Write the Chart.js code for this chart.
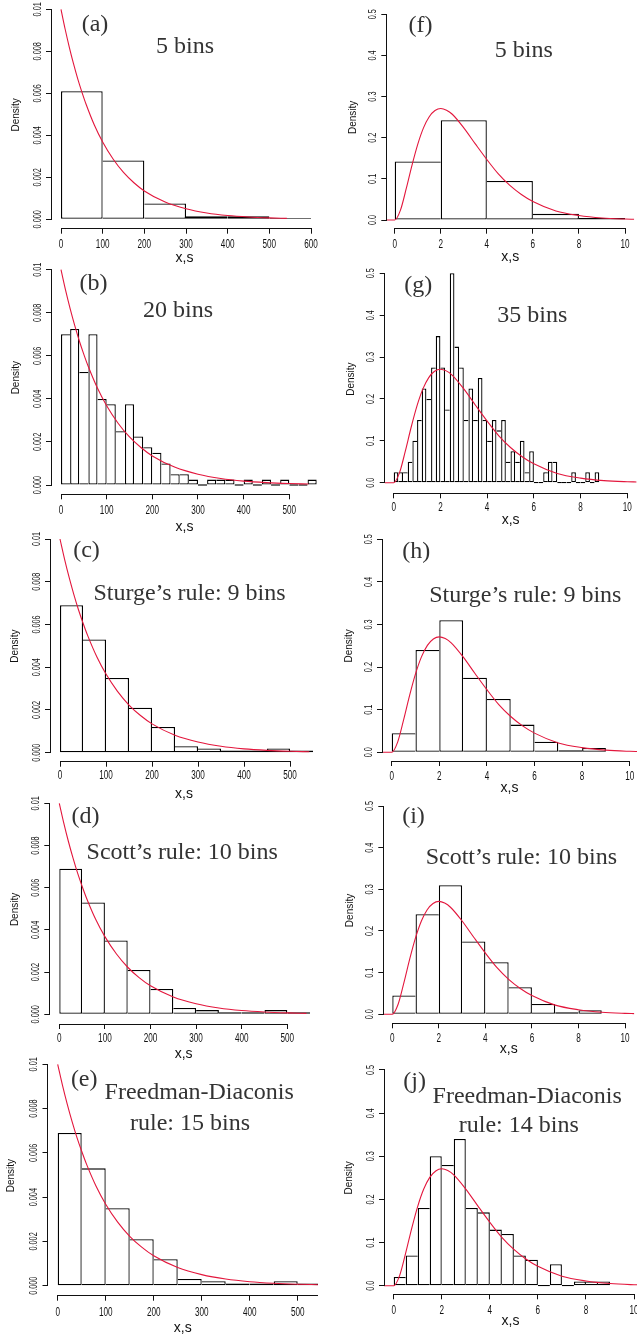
<!DOCTYPE html>
<html>
<head>
<meta charset="utf-8">
<script src="https://cdn.jsdelivr.net/npm/chart.js@4.4.1/dist/chart.umd.min.js"></script>
<style>
  body { margin: 0; background: #fff; }
  #fig { position: relative; width: 637px; height: 1336px; overflow: hidden; background: #fff; }
  #fig canvas { position: absolute; }
</style>
</head>
<body>
<div id="fig"></div>
<script>
// ---- histogram densities (bins start at 0, fixed width) ----
const aWidth = 100;
const aDens = [0.0061, 0.0028, 0.00075, 0.00015, 0.00015, 0.00005];

const bWidth = 20;
const bDens = [0.007, 0.00725, 0.00525, 0.007, 0.004, 0.00375, 0.0025, 0.00375, 0.00225, 0.00175,
               0.0015, 0.001, 0.0005, 0.0005, 0.00025, 0, 0.00025, 0.00025, 0.00025, 0,
               0.00025, 0, 0.00025, 0, 0.00025, 0, 0, 0.00025];

// same 50-wide bins for (c), (d) and (e)
const cWidth = 50;
const cDens = [0.0069, 0.0053, 0.0035, 0.0021, 0.0012, 0.0003, 0.0002, 0.0001, 0.0001, 0.0002, 0.0001];

const fWidth = 2;
const fDens = [0.1425, 0.2425, 0.095, 0.015, 0.005];

const gWidth = 0.2;
const gDens = [0.025, 0.025, 0.025, 0.05, 0.1, 0.15, 0.225, 0.2, 0.275, 0.35,
               0.275, 0.175, 0.5, 0.325, 0.275, 0.15, 0.225, 0.15, 0.25, 0.15,
               0.1, 0.15, 0.125, 0.15, 0.05, 0.075, 0.05, 0.1, 0.025, 0.075,
               0, 0, 0.025, 0.05, 0.05, 0, 0, 0, 0.025, 0,
               0, 0.025, 0, 0.025];

// same 1-wide bins for (h) and (i)
const hWidth = 1;
const hDens = [0.045, 0.24, 0.31, 0.175, 0.125, 0.065, 0.025, 0.005, 0.01];

const jWidth = 0.5;
const jDens = [0.02, 0.07, 0.18, 0.30, 0.28, 0.34, 0.18, 0.17, 0.13, 0.12, 0.07, 0.06, 0, 0.05, 0, 0.01, 0.01, 0.01];

// ---- red density curves ----
const expX = [0, 10, 20, 30, 40, 50, 60, 80, 100, 125, 150, 175, 200, 250, 300, 350, 400, 450, 500, 542];
const expY = [0.01, 0.00905, 0.00819, 0.00741, 0.0067, 0.00607, 0.00549, 0.00449, 0.00368, 0.00287,
              0.00223, 0.00174, 0.00135, 0.00082, 0.0005, 0.0003, 0.00018, 0.00011, 0.000067, 0.000044];

const gamX = [-0.4, 0, 0.25, 0.5, 0.75, 1, 1.25, 1.5, 1.75, 2, 2.25, 2.5, 3, 3.5, 4, 4.5, 5, 5.5, 6, 7, 8, 9, 10, 10.4];
const gamY = [0, 0, 0.024, 0.076, 0.133, 0.184, 0.224, 0.251, 0.266, 0.271, 0.267, 0.257, 0.224, 0.185,
              0.147, 0.112, 0.084, 0.062, 0.045, 0.022, 0.011, 0.005, 0.0023, 0.0017];

// ---- ticks ----
const leftYTicks = [0, 0.002, 0.004, 0.006, 0.008, 0.01];
const leftYLabels = ['0.000', '0.002', '0.004', '0.006', '0.008', '0.01'];
const rightYTicks = [0, 0.1, 0.2, 0.3, 0.4, 0.5];
const rightYLabels = ['0.0', '0.1', '0.2', '0.3', '0.4', '0.5'];
const x600Ticks = [0, 100, 200, 300, 400, 500, 600];
const x600Labels = ['0', '100', '200', '300', '400', '500', '600'];
const x500Ticks = [0, 100, 200, 300, 400, 500];
const x500Labels = ['0', '100', '200', '300', '400', '500'];
const x10Ticks = [0, 2, 4, 6, 8, 10];
const x10Labels = ['0', '2', '4', '6', '8', '10'];

const INK = '#111';
const RED = '#e3173d';
const SANS = '"Liberation Sans", Arial, Helvetica, sans-serif';
const SERIF = '"Liberation Serif", "Times New Roman", serif';

const expCurve = [expX, expY];
const gamCurve = [gamX, gamY];
const leftX = {xmax: 600, yt: leftYTicks, yl: leftYLabels};
const rightX = {xmax: 10, yt: rightYTicks, yl: rightYLabels, xt: x10Ticks, xl: x10Labels};

// layout of each panel, page pixels: y-axis x, x=0 px, [xref, px], y=0 px, [yref, px], x-axis y
const panels = [
  {col: 0, w: aWidth, d: aDens, c: expCurve, ...leftX, xt: x600Ticks, xl: x600Labels,
   ya: 51, x0: 61, xr: [600, 311], y0: 219.3, yr: [0.01, 9.3], xa: 228.7, xlab: 16.3, xtit: 29.6, dx: 16.7,
   notes: [['(a)', 95, 30.7], ['5 bins', 185, 52.7]]},
  {col: 0, w: bWidth, d: bDens, c: expCurve, ...leftX, xt: x500Ticks, xl: x500Labels,
   ya: 51, x0: 61, xr: [500, 289.3], y0: 485, yr: [0.01, 269.7], xa: 494.3, xlab: 16.7, xtit: 32.4, dx: 16.7,
   notes: [['(b)', 93.5, 290], ['20 bins', 178, 316.7]]},
  {col: 0, w: cWidth, d: cDens, c: expCurve, ...leftX, xt: x500Ticks, xl: x500Labels,
   ya: 50, x0: 60, xr: [500, 290], y0: 752.7, yr: [0.01, 539], xa: 761.7, xlab: 14.3, xtit: 32.3, dx: 15,
   notes: [['(c)', 86.5, 556.7], ['Sturge\u2019s rule: 9 bins', 189.5, 600]]},
  {col: 0, w: cWidth, d: cDens, c: expCurve, ...leftX, xt: x500Ticks, xl: x500Labels,
   ya: 49.3, x0: 59.3, xr: [500, 287.3], y0: 1014.3, yr: [0.01, 803.3], xa: 1024, xlab: 14.3, xtit: 30.3, dx: 15,
   notes: [['(d)', 85.5, 823.3], ['Scott\u2019s rule: 10 bins', 182.2, 859.3]]},
  {col: 0, w: cWidth, d: cDens, c: expCurve, ...leftX, xt: x500Ticks, xl: x500Labels, toEdge: true,
   ya: 47.5, x0: 57.7, xr: [500, 297.7], y0: 1285.7, yr: [0.01, 1064.3], xa: 1295.7, xlab: 17.3, xtit: 32.3, dx: 11.7,
   notes: [['(e)', 84.2, 1085.7], ['Freedman-Diaconis', 199.2, 1099.3], ['rule: 15 bins', 190, 1130]]},
  {col: 1, w: fWidth, d: fDens, c: gamCurve, ...rightX,
   ya: 386.3, x0: 394.7, xr: [10, 625], y0: 220, yr: [0.5, 14.3], xa: 228.7, xlab: 16.3, xtit: 28.3, dx: 353,
   notes: [['(f)', 420.5, 32.3], ['5 bins', 523.8, 56.7]]},
  {col: 1, w: gWidth, d: gDens, c: gamCurve, ...rightX,
   ya: 384.7, x0: 393.7, xr: [10, 627.3], y0: 482.7, yr: [0.5, 273.3], xa: 493.3, xlab: 14.4, xtit: 26.7, dx: 351.3,
   notes: [['(g)', 418.3, 291.7], ['35 bins', 532.3, 322.3]]},
  {col: 1, w: hWidth, d: hDens, c: gamCurve, ...rightX,
   ya: 382, x0: 391.7, xr: [10, 629.7], y0: 752.3, yr: [0.5, 539.3], xa: 761, xlab: 15.7, xtit: 27.3, dx: 349.7,
   notes: [['(h)', 416.3, 557.7], ['Sturge\u2019s rule: 9 bins', 525.3, 601.7]]},
  {col: 1, w: hWidth, d: hDens, c: gamCurve, ...rightX,
   ya: 383.3, x0: 392.3, xr: [10, 625], y0: 1014.3, yr: [0.5, 806], xa: 1023.3, xlab: 15.7, xtit: 25.7, dx: 350.7,
   notes: [['(i)', 413.5, 823.3], ['Scott\u2019s rule: 10 bins', 521.3, 864.3]]},
  {col: 1, w: jWidth, d: jDens, c: gamCurve, ...rightX,
   ya: 384, x0: 393.7, xr: [10, 634], y0: 1285.7, yr: [0.5, 1070], xa: 1294.3, xlab: 16.7, xtit: 26.7, dx: 349.7,
   notes: [['(j)', 414.7, 1088.3], ['Freedman-Diaconis', 527.2, 1103.3], ['rule: 14 bins', 518.8, 1131.7]]}
];

const fig = document.getElementById('fig');
const EDGE = 1.3;

// each shared edge is drawn once, by the taller bar
function edgeWidths(c) {
  const d = c.dataset.data, i = c.dataIndex;
  if (i === undefined || !d[i]) return EDGE;
  const v = d[i].y;
  const prev = i > 0 ? d[i - 1].y : -1;
  const next = i < d.length - 1 ? d[i + 1].y : -1;
  return {top: EDGE, bottom: EDGE, left: prev < v ? EDGE : 0, right: next <= v ? EDGE : 0};
}

// R style axes: line from first to last tick, narrow labels, panel notes
function rAxes(p, cl, ctop) {
  return {
    id: 'rAxes',
    afterDraw(chart) {
      const {ctx, chartArea: ca, scales: {x, y}} = chart;
      const al = v => Math.round(v - 0.5) + 0.5;
      ctx.save();
      ctx.strokeStyle = INK;
      ctx.lineWidth = 1;
      ctx.beginPath();
      ctx.moveTo(al(ca.left), al(y.getPixelForValue(p.yt[0])) + 0.5);
      ctx.lineTo(al(ca.left), al(y.getPixelForValue(p.yt[p.yt.length - 1])) - 0.5);
      const xEnd = p.toEdge ? ca.right : x.getPixelForValue(p.xt[p.xt.length - 1]);
      ctx.moveTo(al(x.getPixelForValue(p.xt[0])) - 0.5, al(ca.bottom));
      ctx.lineTo(al(xEnd) + 0.5, al(ca.bottom));
      ctx.stroke();

      ctx.fillStyle = INK;
      ctx.textAlign = 'center';
      ctx.textBaseline = 'middle';
      ctx.font = '10px ' + SANS;
      p.yt.forEach((v, i) => {
        ctx.save();
        ctx.translate(ca.left - 13, y.getPixelForValue(v));
        ctx.rotate(-Math.PI / 2);
        ctx.scale(0.73, 1);
        ctx.fillText(p.yl[i], 0, 0);
        ctx.restore();
      });
      ctx.font = '12px ' + SANS;
      p.xt.forEach((v, i) => {
        ctx.save();
        ctx.translate(x.getPixelForValue(v), ca.bottom + p.xlab);
        ctx.scale(0.68, 1);
        ctx.fillText(p.xl[i], 0, 0);
        ctx.restore();
      });

      ctx.fillStyle = '#333';
      ctx.textBaseline = 'alphabetic';
      ctx.font = '24px ' + SERIF;
      p.notes.forEach(n => ctx.fillText(n[0], n[1] - cl, n[2] - ctop));
      ctx.restore();
    }
  };
}

panels.forEach(p => {
  const cl = p.col ? 318 : 0, cw = p.col ? 319 : 318;
  const ppx = (p.xr[1] - p.x0) / p.xr[0];
  const ppy = (p.y0 - p.yr[1]) / p.yr[0];
  const top = p.yr[1] - 0.04 * (p.y0 - p.yr[1]);
  const right = Math.min(cl + cw, p.x0 + ppx * p.xmax * 1.04);
  const ctop = Math.max(0, Math.floor(top) - 2);
  const XH = 46;
  const ch = Math.ceil(p.xa + XH + 2) - ctop;

  const cv = document.createElement('canvas');
  cv.width = cw;
  cv.height = ch;
  cv.style.left = cl + 'px';
  cv.style.top = ctop + 'px';
  fig.appendChild(cv);

  const bars = p.d.map((v, i) => ({x: (i + 0.5) * p.w, y: v}));
  const curve = p.c[0].map((v, i) => ({x: v, y: p.c[1][i]}));

  const axisCommon = {
    ticks: {display: false},
    border: {display: false},
    grid: {offset: false, drawOnChartArea: false, drawTicks: true, tickLength: 5, tickColor: INK, tickWidth: 1}
  };

  new Chart(cv, {
    type: 'bar',
    data: {
      datasets: [
        {type: 'line', data: curve, borderColor: RED, borderWidth: 1.1, pointRadius: 0,
         cubicInterpolationMode: 'monotone', fill: false, order: 0},
        {type: 'bar', data: bars, backgroundColor: '#fff', borderColor: '#000', borderWidth: edgeWidths,
         borderSkipped: false, inflateAmount: 0, minBarLength: 1.3, barPercentage: 1, categoryPercentage: 1, order: 1}
      ]
    },
    options: {
      responsive: false,
      animation: false,
      devicePixelRatio: 1,
      events: [],
      layout: {padding: {left: 0, top: top - ctop, right: cl + cw - right, bottom: ctop + ch - p.xa - XH}},
      plugins: {legend: {display: false}, tooltip: {enabled: false}},
      scales: {
        x: {
          ...axisCommon,
          type: 'linear',
          offset: false,
          min: (p.ya - p.x0) / ppx,
          max: (right - p.x0) / ppx,
          afterBuildTicks: s => { s.ticks = p.xt.map(v => ({value: v})); },
          afterFit: s => { s.height = XH; },
          title: {display: true, text: 'x,s', color: INK, font: {family: SANS, size: 14},
                  padding: {top: 0, bottom: XH - p.xtit - 8.4}}
        },
        y: {
          ...axisCommon,
          type: 'linear',
          min: -(p.xa - p.y0) / ppy,
          max: (p.y0 - top) / ppy,
          afterBuildTicks: s => { s.ticks = p.yt.map(v => ({value: v})); },
          afterFit: s => { s.width = p.ya - cl; },
          title: {display: true, text: 'Density', color: INK, font: {family: SANS, size: 10},
                  padding: {top: p.dx - cl - 6, bottom: 0}}
        }
      }
    },
    plugins: [rAxes(p, cl, ctop)]
  });
});
</script>
</body>
</html>
